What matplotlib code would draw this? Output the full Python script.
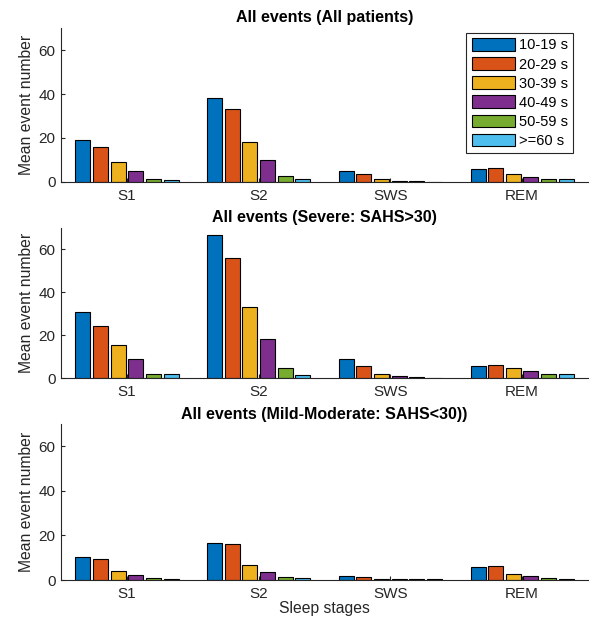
import numpy as np
import matplotlib
matplotlib.use('Agg')
import matplotlib.pyplot as plt

plt.rcParams.update({
    'font.family': ['Liberation Sans', 'DejaVu Sans'],
    'font.size': 10,
})

stages = ['S1', 'S2', 'SWS', 'REM']
durations = ['10-19 s', '20-29 s', '30-39 s', '40-49 s', '50-59 s', '>=60 s']
colors = ['#0072BD', '#D95319', '#EDB120', '#7E2F8E', '#77AC30', '#4DBEEE']

# rows = stages, columns = duration bins
all_patients = [
    [19.1, 15.9, 8.9, 5.1, 1.2, 1.0],
    [38.0, 33.0, 18.2, 9.8, 2.9, 1.2],
    [4.8, 3.5, 1.2, 0.6, 0.3, 0.2],
    [5.8, 6.2, 3.6, 2.3, 1.2, 1.3],
]
severe = [
    [30.7, 24.3, 15.3, 8.7, 1.7, 1.7],
    [66.4, 55.7, 33.2, 18.1, 4.5, 1.3],
    [8.8, 5.6, 1.7, 0.9, 0.3, 0.2],
    [5.6, 6.2, 4.5, 3.3, 1.9, 1.9],
]
mild_moderate = [
    [10.4, 9.5, 4.0, 2.3, 0.8, 0.5],
    [16.8, 16.0, 6.8, 3.6, 1.2, 0.8],
    [1.6, 1.3, 0.6, 0.3, 0.3, 0.3],
    [5.9, 6.3, 2.6, 1.6, 0.7, 0.6],
]

titles = ['All events (All patients)',
          'All events (Severe: SAHS>30)',
          'All events (Mild-Moderate: SAHS<30))']
datasets = [all_patients, severe, mild_moderate]

fig = plt.figure(figsize=(5.93, 6.2), dpi=100)
positions = [(0.103, 0.7065, 0.8886, 0.2483),
             (0.103, 0.3903, 0.8886, 0.2427),
             (0.103, 0.0645, 0.8886, 0.2515)]

axcol = '#262626'
x = np.arange(1, len(stages) + 1)
step, width = 0.134, 0.114

for k, (pos, vals, title) in enumerate(zip(positions, datasets, titles)):
    ax = fig.add_axes(pos)
    vals = np.array(vals)
    for i in range(len(durations)):
        ax.bar(x + (i - 2.5) * step, vals[:, i], width, color=colors[i],
               edgecolor='black', linewidth=0.8, label=durations[i], zorder=2)
    ax.set_xlim(0.5, 4.5)
    ax.set_ylim(0, 70)
    ax.set_yticks([0, 20, 40, 60])
    ax.set_xticks(x)
    ax.set_xticklabels(stages)
    ax.spines['top'].set_visible(False)
    ax.spines['right'].set_visible(False)
    for s in ('left', 'bottom'):
        ax.spines[s].set_color(axcol)
        ax.spines[s].set_linewidth(0.8)
    ax.tick_params(direction='in', length=3, colors=axcol, labelsize=11,
                   labelcolor=axcol)
    ax.tick_params(axis='x', pad=5)
    ax.tick_params(axis='y', pad=4)
    ax.set_ylabel('Mean event number', color=axcol, fontsize=11.3, labelpad=3)
    ax.set_title(title, fontweight='bold', fontsize=11.5, pad=4)
    if k == 0:
        leg = ax.legend(loc='upper right', fontsize=10.5, fancybox=False,
                        framealpha=1, edgecolor=axcol, handlelength=2.95,
                        handleheight=0.95, labelspacing=0.33, borderpad=0.35,
                        handletextpad=0.3, borderaxespad=0,
                        bbox_to_anchor=(0.9715, 0.9675))
        leg.get_frame().set_linewidth(0.8)
    if k == 2:
        ax.set_xlabel('Sleep stages', color=axcol, fontsize=11.3, labelpad=0)

fig.savefig('out.png', dpi=100)
